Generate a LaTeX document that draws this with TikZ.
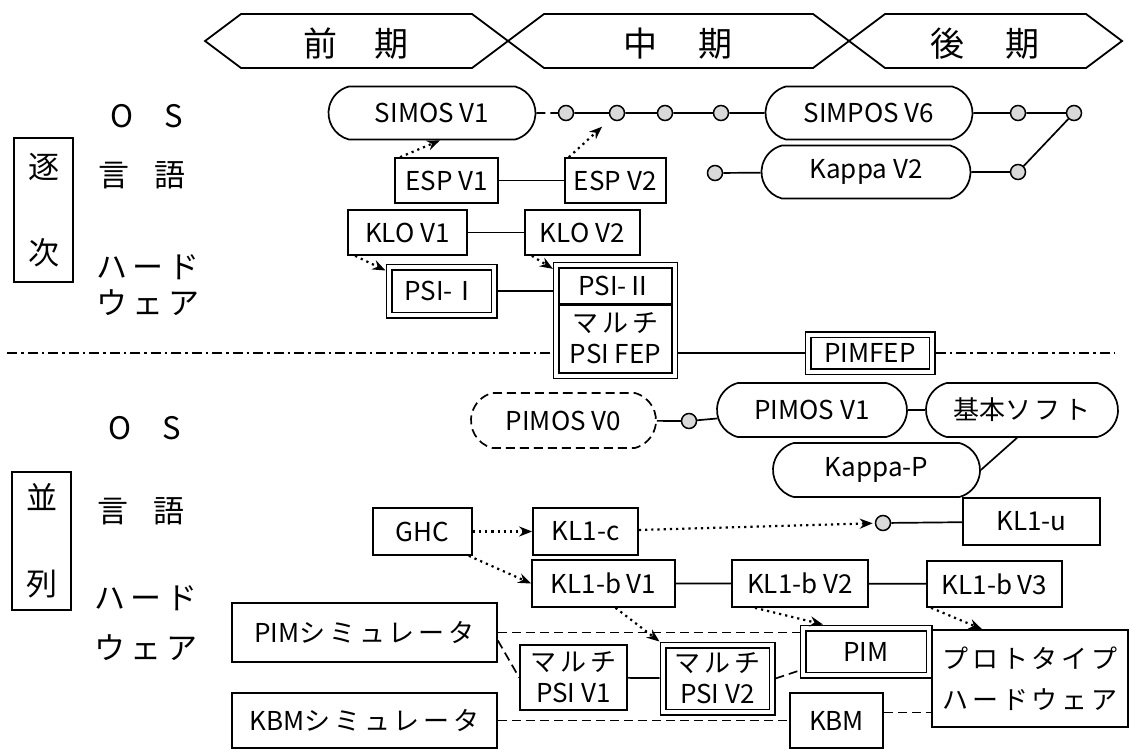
\documentclass[tikz,border=0pt]{standalone}
\usepackage{fontspec}
\setmainfont{Noto Sans CJK JP}
\newfontfamily\spjp[LetterSpace=15]{Noto Sans CJK JP}
\usetikzlibrary{shapes.misc,arrows.meta,positioning,fit}

\newcommand{\hdfont}{\fontsize{34}{40}\selectfont}
\newcommand{\lblfont}{\fontsize{31}{36}\selectfont}
\newcommand{\ndfont}{\fontsize{26}{31}\selectfont}

\begin{document}
\begin{tikzpicture}[
    x=1pt, y=-1pt,
    box/.style={rectangle,draw,line width=1.7pt,inner sep=0pt,align=center,font=\ndfont},
    dbox/.style={box,double,line width=1.5pt,double distance=4pt,outer sep=3.5pt},
    osbox/.style={rounded rectangle,rounded rectangle arc length=150,draw,line width=1.7pt,
                  inner sep=0pt,minimum height=53,font=\ndfont},
    ver/.style={circle,draw,line width=1.5pt,fill=gray!30,minimum size=15,inner sep=0pt},
    period/.style={font=\hdfont},
    lbl/.style={font=\lblfont,align=left},
    sidebox/.style={rectangle,draw,line width=1.6pt,minimum width=59,align=center,font=\lblfont},
    link/.style={line width=1.7pt},
    dashlink/.style={line width=1.7pt,dash pattern=on 9pt off 5pt},
    dashdot/.style={line width=1.7pt,dash pattern=on 10pt off 4pt on 2.5pt off 4pt},
    dotarrow/.style={line width=2.2pt,dash pattern=on 2.2pt off 4pt,-{Stealth[length=13pt,width=10pt]}}
]
\path[use as bounding box,fill=white] (0,0) rectangle (1130,749);

% period header
\draw[line width=1.8pt] (205,41) -- (241,14) -- (472,14) -- (508,41) -- (472,68) -- (241,68) -- cycle;
\draw[line width=1.8pt] (508,41) -- (544,14) -- (813,14) -- (849,41) -- (813,68) -- (544,68) -- cycle;
\draw[line width=1.8pt] (849,41) -- (885,14) -- (1086,14) -- (1122,41) -- (1086,68) -- (885,68) -- cycle;
\node[period] (early) at (356,44) {前\hspace{1.1em}期};
\node[period] (middle) at (678,44) {中\hspace{1.2em}期};
\node[period] (late) at (985,44) {後\hspace{1.2em}期};

% row labels
\node[lbl] (os1) at (147,116) {O\hspace{1em}S};
\node[lbl] (lang1) at (142,175) {言\hspace{0.8em}語};
\node[lbl] (hw1) at (148,285) {\spjp ハード\\\spjp ウェア};
\node[sidebox,minimum height=144] (seqbox) at (43.5,210) {逐\\[50pt]次};
\node[lbl] (os2) at (145,428) {O\hspace{1em}S};
\node[lbl] (lang2) at (141,511) {言\hspace{0.8em}語};
\node[lbl] (hw2) at (146,623) {\spjp ハード\\[14pt]\spjp ウェア};
\node[sidebox,minimum height=138] (parbox) at (41.5,541) {並\\[50pt]列};

% sequential: OS
\node[osbox,minimum width=207] (simos) at (432,113) {SIMOS V1};
\node[ver] (v1) at (566,113) {};
\node[ver] (v2) at (617,113) {};
\node[ver] (v3) at (665,113) {};
\node[ver] (v4) at (721,113) {};
\node[osbox,minimum width=207] (simpos) at (869,113) {SIMPOS V6};
\node[ver] (v5) at (1018,113) {};
\node[ver] (v6) at (1074,113) {};
\node[ver] (k1) at (715,173) {};
\node[osbox,minimum width=209] (kappa) at (866,172) {Kappa V2};
\node[ver] (k2) at (1018,172) {};

% sequential: language and hardware
\node[box,minimum width=103,minimum height=45] (espa) at (446.5,180.5) {ESP V1};
\node[box,minimum width=101,minimum height=45,right=65pt of espa] (espb) {ESP V2};
\node[box,minimum width=119,minimum height=45] (kloa) at (407.5,232.5) {KLO V1};
\node[box,minimum width=115,minimum height=45,right=56pt of kloa] (klob) {KLO V2};
\node[dbox,minimum width=105,minimum height=48] (psia) at (441.5,291) {PSI-Ⅰ};
\node[box,minimum width=113,minimum height=36] (psib) at (615.5,286) {PSI-Ⅱ};
\node[box,minimum width=113,minimum height=69] (mfep) at (615.5,338.5) {{\spjp マルチ}\\PSI FEP};
\node[draw,line width=1.6pt,inner sep=4.5pt,fit=(psib)(mfep)] (psibox) {};
\node[dbox,minimum width=124,minimum height=37] (pimfep) at (870,353) {PIMFEP};
\coordinate (sepl) at (7,353);
\coordinate (sepr) at (1115,353);

% parallel: OS
\node[osbox,dash pattern=on 9pt off 5pt,minimum width=185,minimum height=55] (pimos0) at (563.5,420.5) {PIMOS V0};
\node[ver] (cp) at (689,421) {};
\node[osbox,minimum width=190,minimum height=54] (pimos1) at (812,410) {PIMOS V1};
\node[osbox,minimum width=192,minimum height=54] (kihon) at (1022,410) {基本{\spjp ソフト}};
\node[osbox,minimum width=207,minimum height=54] (kappap) at (876.5,470) {Kappa-P};

% parallel: language
\node[box,minimum width=99,minimum height=47] (ghc) at (422.5,531.5) {GHC};
\node[box,minimum width=105,minimum height=47] (klc) at (585.5,531.5) {KL1-c};
\node[ver] (cu) at (883,523) {};
\node[box,minimum width=137,minimum height=47] (klu) at (1031.5,521.5) {KL1-u};
\node[box,minimum width=143,minimum height=47] (klb1) at (603.5,583.5) {KL1-b V1};
\node[box,minimum width=136,minimum height=47] (klb2) at (800,583.5) {KL1-b V2};
\node[box,minimum width=135,minimum height=46] (klb3) at (994.5,584) {KL1-b V3};

% parallel: hardware
\node[box,minimum width=265,minimum height=59] (pimsim) at (364.5,632.5) {PIM{\spjp シミュレータ}};
\node[box,minimum width=265,minimum height=55] (kbmsim) at (364.5,720.5) {KBM{\spjp シミュレータ}};
\node[box,minimum width=107,minimum height=65] (mpsi1) at (573.5,677.5) {{\spjp マルチ}\\PSI V1};
\node[dbox,minimum width=109,minimum height=67] (mpsi2) at (717.5,678.5) {{\spjp マルチ}\\PSI V2};
\node[dbox,minimum width=126,minimum height=47] (pim) at (866,651.5) {PIM};
\node[box,minimum width=196,minimum height=97] (proto) at (1030,678.5) {{\spjp プロトタイプ}\\[10pt]{\spjp ハードウェア}};
\node[box,minimum width=93,minimum height=55] (kbm) at (836.5,720.5) {KBM};

% connectors, sequential
\draw[dashlink] (simos) -- (v1);
\draw[link] (v1) -- (v2) -- (v3) -- (v4) -- (simpos) -- (v5) -- (v6);
\draw[link] (k1) -- (kappa) -- (k2) -- (v6);
\draw[link] (espa) -- (espb);
\draw[link] (kloa) -- (klob);
\draw[link] (psia) -- (psia -| psibox.west);
\draw[link] (pimfep -| psibox.east) -- (pimfep);
\draw[line width=3pt] (psib.south west) -- (psib.south east);
\draw[dashdot] (sepl) -- (pimfep -| psibox.west);
\draw[dashdot] (pimfep) -- (sepr);
\draw[dotarrow] ([xshift=6pt]espa.north west) -- ([xshift=8pt]simos.south);
\draw[dotarrow,shorten >=12pt] ([xshift=5pt]espb.north west) -- (v2);
\draw[dotarrow] ([xshift=8pt]kloa.south west) -- ([yshift=-7pt]psia.north west);
\draw[dotarrow] ([xshift=8pt]klob.south west) -- ([yshift=-7pt]psibox.north west);

% connectors, parallel
\draw[link] (pimos0) -- (cp) -- (pimos1);
\draw[link] (pimos1) -- (kihon);
\draw[link] ([xshift=-5pt]kihon.south) -- (kappap.east);
\draw[dotarrow] (ghc) -- (klc);
\draw[dotarrow] ([xshift=-4pt]ghc.south east) -- (klb1.west);
\draw[dotarrow,shorten >=2pt] (klc) -- (cu);
\draw[link] (cu) -- (klu);
\draw[link] (klb1) -- (klb2) -- (klb3);
\draw[dotarrow] ([xshift=12pt]klb1.south) -- (mpsi2.north west);
\draw[dotarrow] ([xshift=-45pt]klb2.south) -- ([xshift=-43pt]pim.north);
\draw[dotarrow] ([xshift=5pt]klb3.south west) -- ([xshift=-48pt]proto.north);
\draw[dashlink] (pimsim.east) -- (pimsim.east -| pim.west);
\draw[dashlink] ([yshift=-8pt]pimsim.east) -- (mpsi1.west);
\draw[link] (mpsi1) -- (mpsi2);
\draw[dashlink] (mpsi2.east) -- ([yshift=8pt]pim.south west);
\draw[dashlink] (kbmsim) -- (kbm);
\coordinate (kbmr) at ([yshift=8pt]kbm.east);
\draw[dashlink] (kbmr) -- (kbmr -| proto.west);
\end{tikzpicture}
\end{document}
